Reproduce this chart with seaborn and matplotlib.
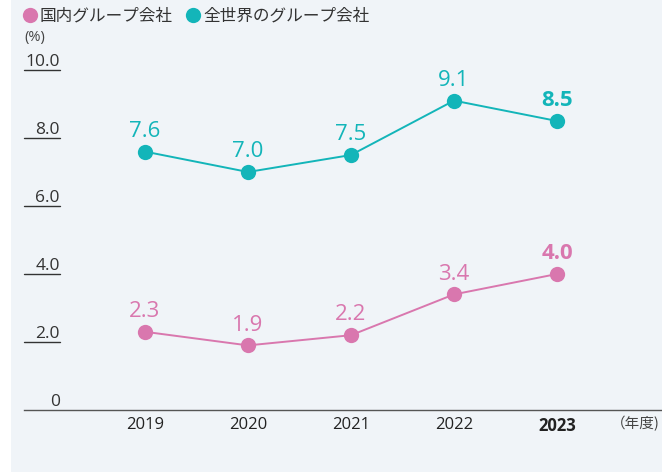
import matplotlib
matplotlib.use("Agg")
import matplotlib.pyplot as plt
import matplotlib.transforms as mtransforms
from matplotlib.lines import Line2D
from matplotlib.patches import Rectangle
import seaborn as sns
import pandas as pd

years = ["2019", "2020", "2021", "2022", "2023"]
domestic = [2.3, 1.9, 2.2, 3.4, 4.0]
worldwide = [7.6, 7.0, 7.5, 9.1, 8.5]
series_names = ["国内グループ会社", "全世界のグループ会社"]
y_ticks = [0, 2.0, 4.0, 6.0, 8.0, 10.0]
y_tick_labels = ["0", "2.0", "4.0", "6.0", "8.0", "10.0"]
unit_label = "(%)"
x_unit_label = "（年度)"

PINK = "#d977ae"
TEAL = "#13b5b9"
BG = "#f0f4f8"

sns.set_theme(style="white")
plt.rcParams["font.family"] = ["Noto Sans CJK JP", "DejaVu Sans"]

W, H = 662, 472
fig = plt.figure(figsize=(W / 100, H / 100), dpi=100, facecolor="white")
fig.patches.append(Rectangle((11 / W, 0), 1 - 11 / W, 1, transform=fig.transFigure,
                             facecolor=BG, edgecolor="none", zorder=-10))

ax_left, ax_right = 24, 662
ax_bottom, ax_top = 410, 70
ax = fig.add_axes([ax_left / W, 1 - ax_bottom / H, (ax_right - ax_left) / W, (ax_bottom - ax_top) / H])
ax.set_facecolor("none")

df = pd.DataFrame({
    "year": years * 2,
    "x": list(range(len(years))) * 2,
    "value": domestic + worldwide,
    "series": [series_names[0]] * len(years) + [series_names[1]] * len(years),
})

sns.lineplot(data=df, x="x", y="value", hue="series",
             palette={series_names[0]: PINK, series_names[1]: TEAL},
             marker="o", markersize=11, markeredgecolor="none", linewidth=1.4,
             ax=ax, legend=False, clip_on=False)

ax.set_xlim(-121 / 103, 4 + 105 / 103)
ax.set_ylim(0, 10)

# data labels
for vals, col in [(domestic, PINK), (worldwide, TEAL)]:
    for i, v in enumerate(vals):
        last = i == len(vals) - 1
        ax.annotate(f"{v:.1f}", (i, v), xytext=(0, 7), textcoords="offset points",
                    ha="center", va="bottom", fontsize=16, color=col,
                    fontweight="bold" if last else "normal",
                    family=["Open Sans", "Noto Sans CJK JP"])

# spines
for s in ["top", "right", "left"]:
    ax.spines[s].set_visible(False)
ax.spines["bottom"].set_color("#555555")
ax.spines["bottom"].set_linewidth(1.0)

# x ticks
ax.set_xticks(range(len(years)))
ax.set_xticklabels(years, fontsize=12, color="#222222", family=["Open Sans", "Noto Sans CJK JP"])
ax.tick_params(axis="x", length=0, pad=5)
ax.get_xticklabels()[-1].set_fontweight("bold")
ax.set_xlabel("")
ax.set_ylabel("")

# y ticks drawn as underlined labels
ax.set_yticks([])
blend = mtransforms.blended_transform_factory(ax.transAxes, ax.transData)
w_ax = ax_right - ax_left
for v, lab in zip(y_ticks, y_tick_labels):
    if v != 0:
        ax.plot([0, 36 / w_ax], [v, v], transform=blend, color="#333333", lw=1.0, clip_on=False)
    ax.text(36 / w_ax, v, lab, transform=blend, ha="right", va="bottom",
            fontsize=12.5, color="#333333", family=["Open Sans", "Noto Sans CJK JP"])
ax.set_ylabel("")

fig.text(24 / W, 1 - 38 / H, unit_label, ha="left", va="center", fontsize=10.5, color="#444444",
         family=["Open Sans", "Noto Sans CJK JP"])

fig.text(660 / W, 1 - 424 / H, x_unit_label, ha="right", va="center", fontsize=10.5, color="#444444")

# legend
handles = [Line2D([], [], marker="o", linestyle="none", markersize=11, markerfacecolor=PINK, markeredgecolor="none"),
           Line2D([], [], marker="o", linestyle="none", markersize=11, markerfacecolor=TEAL, markeredgecolor="none")]
fig.legend(handles, series_names, loc="center left", bbox_to_anchor=(25 / W, 1 - 16 / H), ncol=2,
           frameon=False, fontsize=12, handlelength=0.6, handletextpad=0.3, columnspacing=0.9,
           borderpad=0, borderaxespad=0, labelcolor="#333333")

fig.savefig("out.png", dpi=100, facecolor="white")
